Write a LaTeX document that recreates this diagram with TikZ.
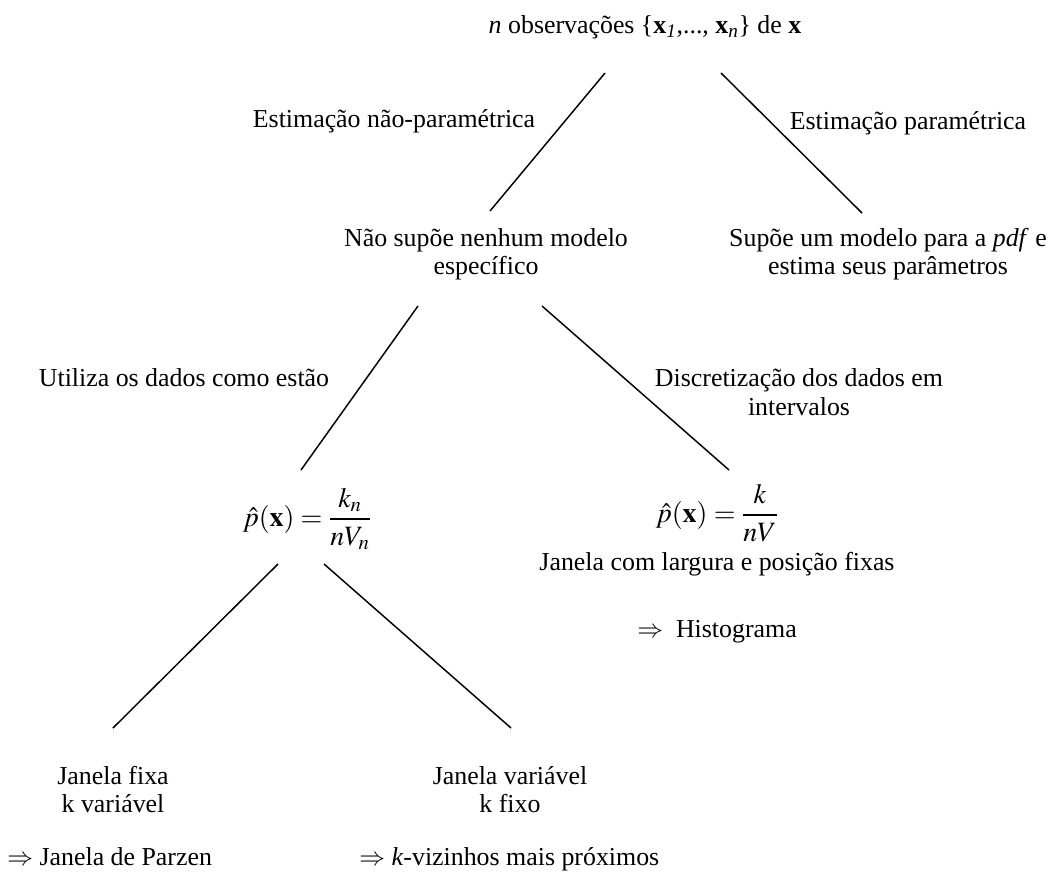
\documentclass[tikz,border=0pt]{standalone}
\usepackage{amsmath}
\usepackage{mathptmx}
\usepackage[no-math]{fontspec}
\setmainfont{Liberation Serif}
\usepackage{tikz}

\begin{document}
\begin{tikzpicture}[x=0.75pt,y=0.75pt,yscale=-1,xscale=1,
  txt/.style={font=\fontsize{19.4}{21}\selectfont,inner sep=0pt,align=center},
  formula/.style={txt,font=\fontsize{21}{23}\selectfont}]
\useasboundingbox (0,0) rectangle (1049,880);

%Coordinates of line ends
\coordinate (np1) at (605,73);  \coordinate (np2) at (490,211);
\coordinate (pa1) at (721,73);  \coordinate (pa2) at (862,213);
\coordinate (ud1) at (418,306); \coordinate (ud2) at (301,470);
\coordinate (di1) at (542,306); \coordinate (di2) at (729,470);
\coordinate (jf1) at (278,564); \coordinate (jf2) at (113,728);
\coordinate (jv1) at (324,564); \coordinate (jv2) at (511,728);

%Straight Lines
\draw [line width=1.1pt] (np1) -- (np2) ;
%Straight Lines
\draw [line width=1.1pt] (pa1) -- (pa2) ;
%Straight Lines
\draw [line width=1.1pt] (ud1) -- (ud2) ;
%Straight Lines
\draw [line width=1.1pt] (di1) -- (di2) ;
%Straight Lines
\draw [line width=1.1pt] (jf1) -- (jf2) ;
%Straight Lines
\draw [line width=1.1pt] (jv1) -- (jv2) ;

% Text Node
\draw (645,34) node (obs) [txt,anchor=base] {\textit{n} observações \{\textbf{x}\textsubscript{\textit{1}},..., \textbf{x}\textsubscript{\textit{n}}\} de \textbf{x}};
% Text Node
\draw (394,128) node (estnp) [txt,anchor=base] {Estimação não-paramétrica};
% Text Node
\draw (908,130) node (estp) [txt,anchor=base] {Estimação paramétrica};
% Text Node
\draw (486,275) node (naosup) [txt,anchor=base] {Não supõe nenhum modelo\\específico};
% Text Node
\draw (888,275) node (supoe) [txt,anchor=base] {Supõe um modelo para a \textit{pdf} e\\estima seus parâmetros};
% Text Node
\draw (184,387) node (utiliza) [txt,anchor=base] {Utiliza os dados como estão};
% Text Node
\draw (799,415) node (discret) [txt,anchor=base] {Discretização dos dados em\\intervalos};
% Text Node
\draw (307,526) node (pkn) [formula,anchor=base] {$\hat{p}(\mathbf{x})=\dfrac{k_{n}}{nV_{n}}$};
% Text Node
\draw (717,522) node (pk) [formula,anchor=base] {$\hat{p}(\mathbf{x})=\dfrac{k}{nV}$};
% Text Node
\draw (717,570) node (janfix) [txt,anchor=base] {Janela com largura e posição fixas};
% Text Node
\draw (717,637) node (histo) [txt,anchor=base] {$\Rightarrow$\ \ Histograma};
% Text Node
\draw (113,812) node (jfixa) [txt,anchor=base] {Janela fixa\\k variável};
% Text Node
\draw (510,812) node (jvar) [txt,anchor=base] {Janela variável\\k fixo};
% Text Node
\draw (7,865) node (parzen) [txt,anchor=base west] {$\Rightarrow$ Janela de Parzen};
% Text Node
\draw (359,865) node (kviz) [txt,anchor=base west] {$\Rightarrow$ \textit{k}-vizinhos mais próximos};

\end{tikzpicture}
\end{document}
